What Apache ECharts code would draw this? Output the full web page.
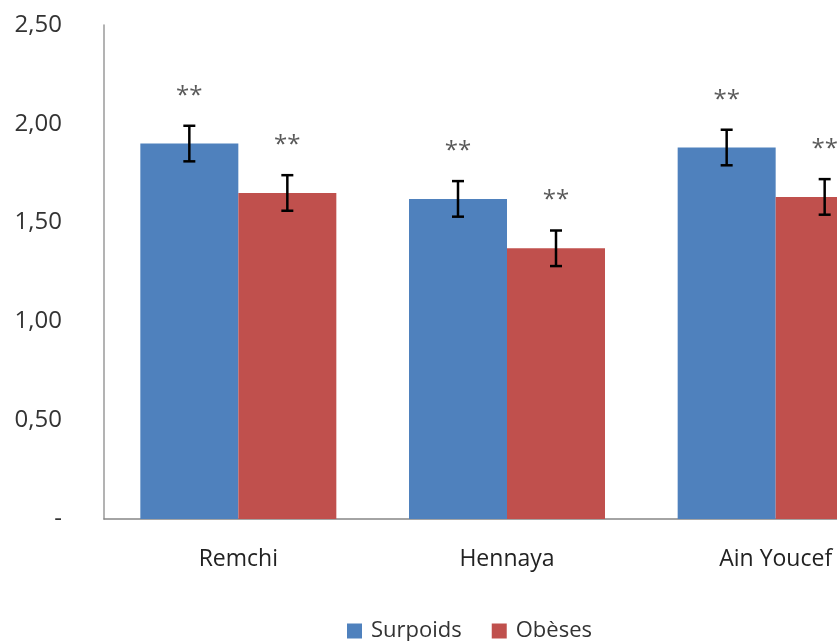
<!DOCTYPE html>
<html>
<head>
<meta charset="utf-8">
<script src="https://cdn.jsdelivr.net/npm/echarts@6/dist/echarts.min.js"></script>
<style>
  html, body { margin: 0; padding: 0; background: #fff; }
  #chart { width: 837px; height: 641px; }
</style>
</head>
<body>
<div id="chart"></div>
<script>
// Communes and group names
const categories = ['Remchi', 'Hennaya', 'Ain Youcef'];
const seriesNames = ['Surpoids', 'Obèses'];

// Mean values per commune
const surpoidsValues = [1.90, 1.62, 1.88];
const obesesValues = [1.65, 1.37, 1.63];

// Error bar half-widths
const surpoidsErrors = [0.09, 0.09, 0.09];
const obesesErrors = [0.09, 0.09, 0.09];

// Significance markers shown above each bar
const surpoidsMarks = ['**', '**', '**'];
const obesesMarks = ['**', '**', '**'];

const yTicks = [0, 0.5, 1.0, 1.5, 2.0, 2.5];

const FONT = '"Open Sans", "Noto Sans", sans-serif';
const BAR_W = 98;
const colors = ['#4F81BD', '#C0504D'];

// Error bars with caps, plus the significance marker above each one
function errorSeries(values, errors, marks, side) {
  return {
    type: 'custom',
    z: 5,
    silent: true,
    clip: false,
    data: values.map((v, i) => [i, v - errors[i], v + errors[i]]),
    renderItem: function (params, api) {
      const i = api.value(0);
      const lo = api.coord([i, api.value(1)]);
      const hi = api.coord([i, api.value(2)]);
      const x = lo[0] + side * BAR_W / 2;
      const cap = 6;
      const style = { stroke: '#000', lineWidth: 2.5 };
      return {
        type: 'group',
        children: [
          { type: 'line', shape: { x1: x, y1: hi[1], x2: x, y2: lo[1] }, style: style },
          { type: 'line', shape: { x1: x - cap, y1: hi[1], x2: x + cap, y2: hi[1] }, style: style },
          { type: 'line', shape: { x1: x - cap, y1: lo[1], x2: x + cap, y2: lo[1] }, style: style },
          {
            type: 'text',
            x: x, y: hi[1] - 30,
            style: {
              text: marks[i], fill: '#595959', font: '24px ' + FONT,
              align: 'center', verticalAlign: 'middle'
            }
          }
        ]
      };
    }
  };
}

const chart = echarts.init(document.getElementById('chart'), null, { renderer: 'canvas' });
chart.setOption({
  animation: false,
  backgroundColor: '#fff',
  grid: { left: 104, top: 25, width: 806, height: 494, outerBoundsMode: 'none', containLabel: false },
  legend: {
    data: seriesNames,
    left: 342,
    top: 615,
    itemWidth: 15,
    itemHeight: 15,
    itemGap: 30,
    icon: 'rect',
    textStyle: { fontFamily: FONT, fontSize: 22, color: '#333', padding: [0, 0, 0, 4] }
  },
  xAxis: {
    type: 'category',
    data: categories,
    axisLine: { lineStyle: { color: '#868686', width: 1.5 } },
    axisTick: { show: false },
    axisLabel: { fontFamily: FONT, fontSize: 23, color: '#222', margin: 29 }
  },
  yAxis: {
    type: 'value',
    min: 0, max: 2.5, interval: 0.5,
    axisLine: { show: true, lineStyle: { color: '#9a9a9a', width: 1.5 } },
    axisTick: { show: false },
    splitLine: { show: false },
    axisLabel: {
      fontFamily: FONT, fontSize: 24, color: '#333', margin: 42,
      formatter: function (v) {
        return v === yTicks[0] ? '-' : v.toFixed(2).replace('.', ',');
      }
    }
  },
  series: [
    {
      name: seriesNames[0], type: 'bar', data: surpoidsValues,
      barWidth: BAR_W, barGap: '0%',
      itemStyle: { color: colors[0] }
    },
    {
      name: seriesNames[1], type: 'bar', data: obesesValues,
      barWidth: BAR_W, barGap: '0%',
      itemStyle: { color: colors[1] }
    },
    errorSeries(surpoidsValues, surpoidsErrors, surpoidsMarks, -1),
    errorSeries(obesesValues, obesesErrors, obesesMarks, 1)
  ]
});
</script>
</body>
</html>
